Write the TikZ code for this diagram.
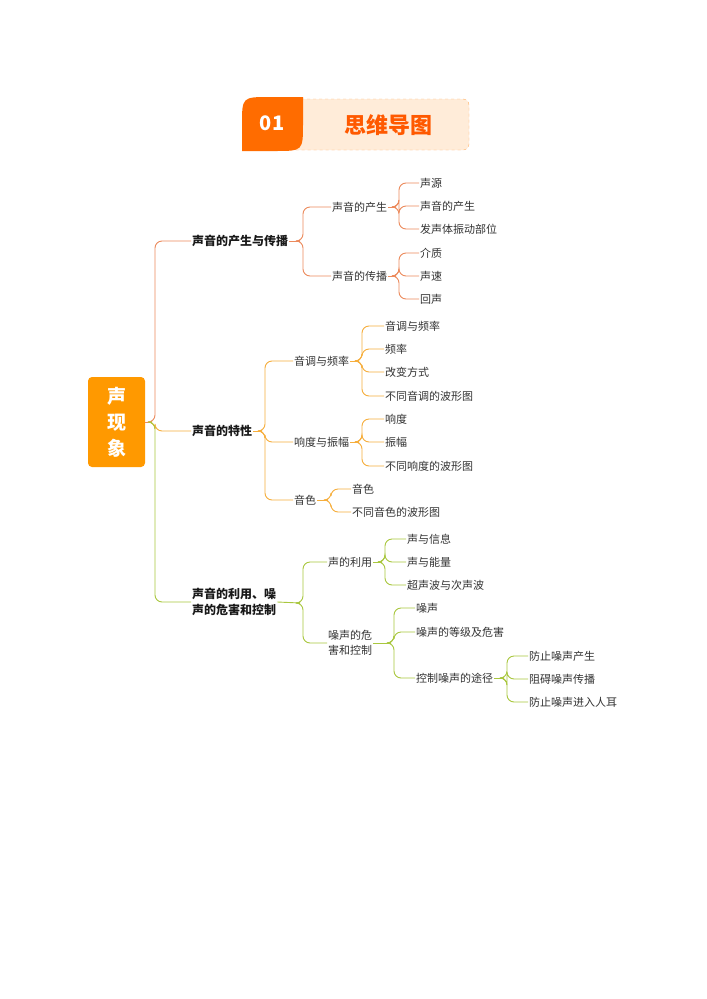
\documentclass[tikz,border=0pt]{standalone}
\usepackage{fontspec}
\setmainfont{Noto Sans CJK SC}
\begin{document}
\begin{tikzpicture}[x=1pt,y=-1pt,
  t/.style={anchor=west,inner sep=1pt,font=\fontsize{11}{13}\selectfont,text=black!80},
  tb/.style={anchor=west,inner sep=1pt,font=\fontsize{12}{16}\selectfont\bfseries,text=black!90,align=left},
  ln/.style={line width=0.9pt,rounded corners=7pt}]
\definecolor{ca}{HTML}{EC8A5C}
\definecolor{cb}{HTML}{F6AE3C}
\definecolor{cc}{HTML}{A9C73E}
\useasboundingbox (0,0) rectangle (707,999);
\fill[white] (0,0) rectangle (707,999);
% header
\draw[dashed,draw=orange!60,fill=orange!15,rounded corners=6pt] (290,99) rectangle (469,150);
\fill[orange!85!red] (242,151) -- (242,125) .. controls (242,97) .. (270,97) -- (303,97) -- (303,123) .. controls (303,151) .. (275,151) -- cycle;
\node[text=white,font=\fontsize{20}{20}\selectfont\bfseries] (n01) at (272,123) {01};
\node[text=orange!70!red,font=\fontsize{22}{22}\selectfont\bfseries] (title) at (388,125) {思维导图};
% root
\node[fill=orange!80!yellow,rounded corners=4pt,minimum width=57pt,minimum height=90pt,text=white,align=center,font=\fontsize{19}{26}\selectfont\bfseries] (root) at (116.5,422) {声\\现\\象};
\newcommand\cn[3]{\draw[ln,#3] (#1) -- ++(3,0) |- (#2.west);}
% level1
\node[tb] (a) at (191,241) {声音的产生与传播};
\node[tb] (b) at (191,431) {声音的特性};
\node[tb] (c) at (191,602) {声音的利用、噪\\声的危害和控制};
\coordinate (j0) at (152,422);
\draw[ln,ca] (root.east) -- (j0);
\cn{j0}{a}{ca}\cn{j0}{b}{cb}\cn{j0}{c}{cc}
% branch a
\node[t] (a1) at (331,207) {声音的产生};
\node[t] (a2) at (331,276) {声音的传播};
\coordinate (ja) at (300,241); \draw[ln,ca] (a.east) -- (ja); \cn{ja}{a1}{ca}\cn{ja}{a2}{ca}
\node[t] (a11) at (419,183) {声源};
\node[t] (a12) at (419,206) {声音的产生};
\node[t] (a13) at (419,229) {发声体振动部位};
\coordinate (ja1) at (396,207); \draw[ln,ca] (a1.east) -- (ja1); \cn{ja1}{a11}{ca}\cn{ja1}{a12}{ca}\cn{ja1}{a13}{ca}
\node[t] (a21) at (419,253) {介质};
\node[t] (a22) at (419,276) {声速};
\node[t] (a23) at (419,299) {回声};
\coordinate (ja2) at (396,276); \draw[ln,ca] (a2.east) -- (ja2); \cn{ja2}{a21}{ca}\cn{ja2}{a22}{ca}\cn{ja2}{a23}{ca}
% branch b
\node[t] (b1) at (293,361) {音调与频率};
\node[t] (b2) at (293,442) {响度与振幅};
\node[t] (b3) at (293,500) {音色};
\coordinate (jb) at (262,431); \draw[ln,cb] (b.east) -- (jb); \cn{jb}{b1}{cb}\cn{jb}{b2}{cb}\cn{jb}{b3}{cb}
\node[t] (b11) at (384,326) {音调与频率};
\node[t] (b12) at (384,349) {频率};
\node[t] (b13) at (384,372) {改变方式};
\node[t] (b14) at (384,396) {不同音调的波形图};
\coordinate (jb1) at (359,361); \draw[ln,cb] (b1.east) -- (jb1); \cn{jb1}{b11}{cb}\cn{jb1}{b12}{cb}\cn{jb1}{b13}{cb}\cn{jb1}{b14}{cb}
\node[t] (b21) at (384,419) {响度};
\node[t] (b22) at (384,442) {振幅};
\node[t] (b23) at (384,466) {不同响度的波形图};
\coordinate (jb2) at (359,442); \draw[ln,cb] (b2.east) -- (jb2); \cn{jb2}{b21}{cb}\cn{jb2}{b22}{cb}\cn{jb2}{b23}{cb}
\node[t] (b31) at (351,489) {音色};
\node[t] (b32) at (351,512) {不同音色的波形图};
\coordinate (jb3) at (328,500); \draw[ln,cb] (b3.east) -- (jb3); \cn{jb3}{b31}{cb}\cn{jb3}{b32}{cb}
% branch c
\node[t] (c1) at (327,562) {声的利用};
\node[t,align=left,font=\fontsize{11}{15}\selectfont] (c2) at (327,643) {噪声的危\\害和控制};
\coordinate (jc) at (300,603); \draw[ln,cc] (c.east) -- (jc); \cn{jc}{c1}{cc}\cn{jc}{c2}{cc}
\node[t] (c11) at (406,539) {声与信息};
\node[t] (c12) at (406,562) {声与能量};
\node[t] (c13) at (406,585) {超声波与次声波};
\coordinate (jc1) at (382,562); \draw[ln,cc] (c1.east) -- (jc1); \cn{jc1}{c11}{cc}\cn{jc1}{c12}{cc}\cn{jc1}{c13}{cc}
\node[t] (c21) at (415,608) {噪声};
\node[t] (c22) at (415,632) {噪声的等级及危害};
\node[t] (c23) at (415,678) {控制噪声的途径};
\coordinate (jc2) at (391,643); \draw[ln,cc] (c2.east) -- (jc2); \cn{jc2}{c21}{cc}\cn{jc2}{c22}{cc}\cn{jc2}{c23}{cc}
\node[t] (c231) at (528,656) {防止噪声产生};
\node[t] (c232) at (528,679) {阻碍噪声传播};
\node[t] (c233) at (528,702) {防止噪声进入人耳};
\coordinate (jc23) at (504,678); \draw[ln,cc] (c23.east) -- (jc23); \cn{jc23}{c231}{cc}\cn{jc23}{c232}{cc}\cn{jc23}{c233}{cc}
\end{tikzpicture}
\end{document}
